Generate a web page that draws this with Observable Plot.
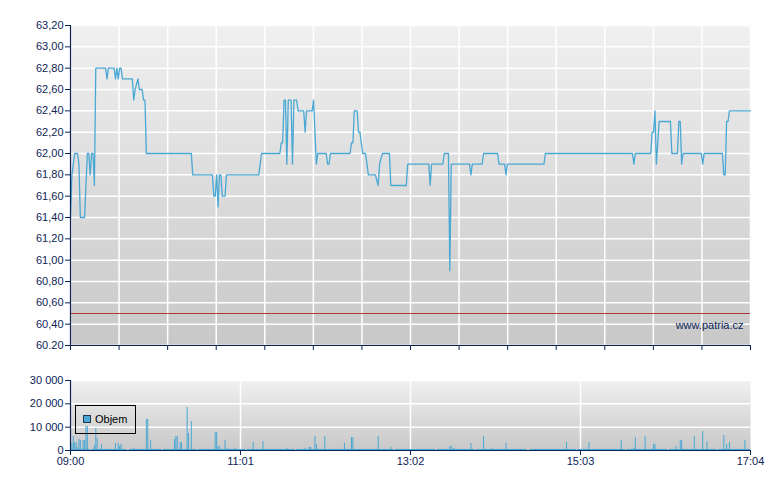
<!DOCTYPE html>
<html><head><meta charset="utf-8">
<script src="https://cdn.jsdelivr.net/npm/d3@7"></script>
<script src="https://cdn.jsdelivr.net/npm/@observablehq/plot@0.6"></script>
<style>
body{margin:0;background:#fff;}
#wrap{position:relative;width:780px;height:490px;font-family:"Liberation Sans",Arial,sans-serif;overflow:hidden;}
#top,#bottom{position:absolute;left:0;}
#top{top:0;}
#bottom{top:355px;}
#legend{position:absolute;left:75px;top:405px;width:61px;height:29px;border:1px solid #000;box-sizing:border-box;}
#legend .sw{position:absolute;left:7px;top:9px;width:8px;height:8px;background:#4aa8d4;border:1px solid #1f3550;box-sizing:border-box;}
#legend .lb{position:absolute;left:19px;top:7px;font-size:11px;line-height:13px;color:#000;}
</style></head>
<body>
<div id="wrap"><div id="top"></div><div id="bottom"></div>
<div id="legend"><div class="sw"></div><div class="lb">Objem</div></div></div>
<script>
// ---- data ----
const priceTimes = ["09:00","09:01","09:03","09:05","09:06","09:07","09:10","09:11","09:12","09:13","09:14","09:15","09:16","09:17","09:18",
"09:25","09:26","09:27","09:31","09:32","09:33","09:34","09:35","09:36","09:37","09:44","09:45","09:46","09:48","09:49","09:51","09:52","09:53","09:54",
"10:26","10:27","10:41","10:42","10:43","10:44","10:45","10:46","10:47","10:48","10:50","10:51","11:14","11:16","11:29","11:30","11:31","11:32","11:33",
"11:34","11:35","11:37","11:38","11:39","11:41","11:42","11:46","11:47","11:48","11:52","11:53","11:55","11:56","12:02","12:03","12:04","12:05",
"12:19","12:20","12:21","12:22","12:24","12:25","12:26","12:27","12:28","12:30","12:31","12:32","12:37","12:39","12:40","12:42","12:47","12:48",
"12:59","13:00","13:15","13:16","13:17","13:25","13:26","13:29","13:30","13:31","13:44","13:45","13:46","13:53","13:54","14:04","14:05","14:09",
"14:10","14:11","14:37","14:38","15:40","15:41","15:42","15:53","15:54","15:55","15:56","15:57","15:59","16:07","16:08","16:12","16:13","16:14",
"16:15","16:16","16:29","16:30","16:31","16:44","16:45","16:46","16:47","16:48","16:49","17:04"];
const priceValues = [61.4,61.8,62.0,62.0,61.9,61.4,61.4,61.7,62.0,62.0,61.8,62.0,62.0,61.7,62.8,
62.8,62.7,62.8,62.8,62.7,62.8,62.7,62.8,62.8,62.7,62.7,62.5,62.6,62.7,62.6,62.6,62.5,62.5,62.0,
62.0,61.8,61.8,61.6,61.6,61.8,61.5,61.8,61.8,61.6,61.6,61.8,61.8,62.0,62.0,62.1,62.1,62.5,62.5,
61.9,62.5,62.5,61.9,62.5,62.5,62.4,62.4,62.2,62.4,62.4,62.5,61.9,62.0,62.0,61.9,61.9,62.0,
62.0,62.1,62.1,62.4,62.4,62.2,62.2,62.1,62.0,62.0,61.9,61.8,61.8,61.7,61.9,62.0,62.0,61.7,
61.7,61.9,61.9,61.7,61.9,61.9,62.0,62.0,60.9,61.9,61.9,61.8,61.9,61.9,62.0,62.0,61.9,61.9,
61.8,61.9,61.9,62.0,62.0,61.9,62.0,62.0,62.2,62.2,62.4,61.9,62.3,62.3,62.0,62.0,62.3,62.3,
61.9,62.0,62.0,61.9,62.0,62.0,61.8,61.8,62.3,62.3,62.4,62.4];
const referencePrice = 60.5;

const volTimes = ["09:01","09:02","09:03","09:04","09:05","09:06","09:07","09:09","09:10","09:11","09:12","09:17","09:18","09:19","09:22",
"09:32","09:34","09:35","09:36","09:45","09:54","09:55","09:57","10:14","10:15","10:16","10:18","10:19","10:23","10:24","10:26",
"10:43","10:44","10:45","10:46","10:50","10:52","10:57","11:10","11:17","11:34","11:47","11:50","11:51","11:54","11:55","12:01",
"12:15","12:20","12:21","12:39","12:48","13:30","13:31","13:33","13:45","13:54","14:00","14:10","14:53","15:09","15:32","15:41",
"15:42","15:49","15:55","15:56","16:11","16:14","16:15","16:24","16:30","16:33","16:45","16:47","16:49","17:00"];
const volValues = [3100,6000,3200,3500,1100,4700,4300,4300,4300,10300,10300,2100,9500,5100,2600,
3000,3000,1700,2700,900,13300,13300,4300,4700,6000,6000,3400,3400,18400,7300,12400,
7700,7700,1700,1700,4300,900,900,3400,3900,900,900,1300,1300,6000,2600,6000,
3000,5600,5600,6000,1300,1700,1700,900,3000,6000,900,3000,3400,3400,4300,1100,
5600,6000,2600,2600,1700,4300,4300,6000,8100,3800,6400,2600,3400,4300];
// runs of small trades along the baseline
const smallRunStart = ["09:00","09:15","09:42","10:06","10:31","11:06","11:41","12:21","12:51","13:21","13:49","14:27","15:01","15:36","16:06","16:41"];
const smallRunEnd   = ["09:14","09:40","10:05","10:30","11:05","11:40","12:20","12:50","13:20","13:48","14:25","15:00","15:35","16:05","16:40","17:04"];
const smallRunVolume = [450,450,450,450,450,450,450,450,450,450,450,450,450,450,450,450];

const priceTicks = [60.2,60.4,60.6,60.8,61.0,61.2,61.4,61.6,61.8,62.0,62.2,62.4,62.6,62.8,63.0,63.2];
const priceTickLabels = ["60.20","60,40","60,60","60,80","61,00","61,20","61,40","61,60","61,80","62,00","62,20","62,40","62,60","62,80","63,00","63,20"];
const topGridTimes = ["09:00:00","09:34:34","10:09:09","10:43:43","11:18:17","11:52:51","12:27:26","13:02:00","13:36:34","14:11:09","14:45:43","15:20:17","15:54:51","16:29:26","17:04:00"];
const timeLabelTimes = ["09:00","11:01","13:02","15:03","17:04"];
const volTicks = [0,10000,20000,30000];
const volTickLabels = ["0","10 000","20 000","30 000"];
const sourceText = "www.patria.cz";
const volumeLabel = "Objem";

// ---- drawing ----
const navy = "#0d2456";
const blue = "#4aa8d4";
const parseT = d3.utcParse("%H:%M");
const parseS = d3.utcParse("%H:%M:%S");
const xDomain = [parseT(timeLabelTimes[0]), parseT(timeLabelTimes[timeLabelTimes.length-1])];
const price = priceTimes.map((t,i)=>({t:parseT(t), p:priceValues[i]}));
const vol = volTimes.map((t,i)=>({t:parseT(t), v:volValues[i]}));
const runs = smallRunStart.map((s,i)=>({a:parseT(s), b:parseT(smallRunEnd[i]), v:smallRunVolume[i]}));
const font = {fontFamily:"Liberation Sans, Arial, sans-serif", fontSize:"11px", color:navy, background:"transparent", overflow:"visible"};

function addGradient(svg, id){
  const defs = d3.select(svg).insert("defs", ":first-child");
  const g = defs.append("linearGradient").attr("id", id).attr("x1",0).attr("y1",0).attr("x2",0).attr("y2",1);
  g.append("stop").attr("offset","0%").attr("stop-color","#f0f0f0");
  g.append("stop").attr("offset","100%").attr("stop-color","#c8c8c8");
}

const topPlot = Plot.plot({
  width:780, height:355, marginTop:25, marginBottom:10, marginLeft:70, marginRight:30,
  style:font,
  x:{type:"utc", domain:xDomain, label:null},
  y:{domain:[priceTicks[0], priceTicks[priceTicks.length-1]], label:null},
  marks:[
    Plot.frame({fill:"url(#gTop)", stroke:null}),
    Plot.ruleY(priceTicks, {stroke:"white", strokeWidth:1.5}),
    Plot.ruleX(topGridTimes.map(parseS), {stroke:"white", strokeWidth:1.5}),
    Plot.ruleY([referencePrice], {stroke:"#b03a36", strokeWidth:1}),
    Plot.line(price, {x:"t", y:"p", stroke:blue, strokeWidth:1.3}),
    Plot.axisY(priceTicks, {label:null, tickSize:5, tickPadding:2, tickFormat:d=>priceTickLabels[priceTicks.indexOf(d)]}),
    Plot.axisX(topGridTimes.map(parseS), {label:null, tickSize:5, tickFormat:()=>""}),
    Plot.ruleX([xDomain[0]], {stroke:navy, strokeWidth:1.2}),
    Plot.ruleY([priceTicks[0]], {stroke:navy, strokeWidth:1.2}),
    Plot.text([sourceText], {frameAnchor:"bottom-right", dx:-7, dy:-17, fill:navy, fontSize:11})
  ]
});
addGradient(topPlot, "gTop");
document.getElementById("top").appendChild(topPlot);

const bottomPlot = Plot.plot({
  width:780, height:135, marginTop:25, marginBottom:40, marginLeft:70, marginRight:30,
  style:font,
  x:{type:"utc", domain:xDomain, label:null},
  y:{domain:[volTicks[0], volTicks[volTicks.length-1]], label:null},
  marks:[
    Plot.frame({fill:"url(#gBot)", stroke:null}),
    Plot.ruleY(volTicks.slice(1), {stroke:"white", strokeWidth:1.5}),
    Plot.ruleX(timeLabelTimes.slice(1,-1).map(parseT), {stroke:"white", strokeWidth:1.5}),
    Plot.rectY(runs, {x1:"a", x2:"b", y:"v", fill:blue}),
    Plot.rectY(vol, {x:"t", y:"v", interval:d3.utcMinute, insetRight:0.4, fill:blue}),
    Plot.axisY(volTicks, {label:null, tickSize:5, tickPadding:2, tickFormat:d=>volTickLabels[volTicks.indexOf(d)]}),
    Plot.axisX(timeLabelTimes.map(parseT), {label:null, tickSize:5, tickPadding:2, tickFormat:d3.utcFormat("%H:%M")}),
    Plot.ruleX([xDomain[0]], {stroke:navy, strokeWidth:1.2}),
    Plot.ruleY([0], {stroke:navy, strokeWidth:1.2})
  ]
});
addGradient(bottomPlot, "gBot");
document.getElementById("bottom").appendChild(bottomPlot);
document.querySelector("#legend .lb").textContent = volumeLabel;
</script>
</body></html>
